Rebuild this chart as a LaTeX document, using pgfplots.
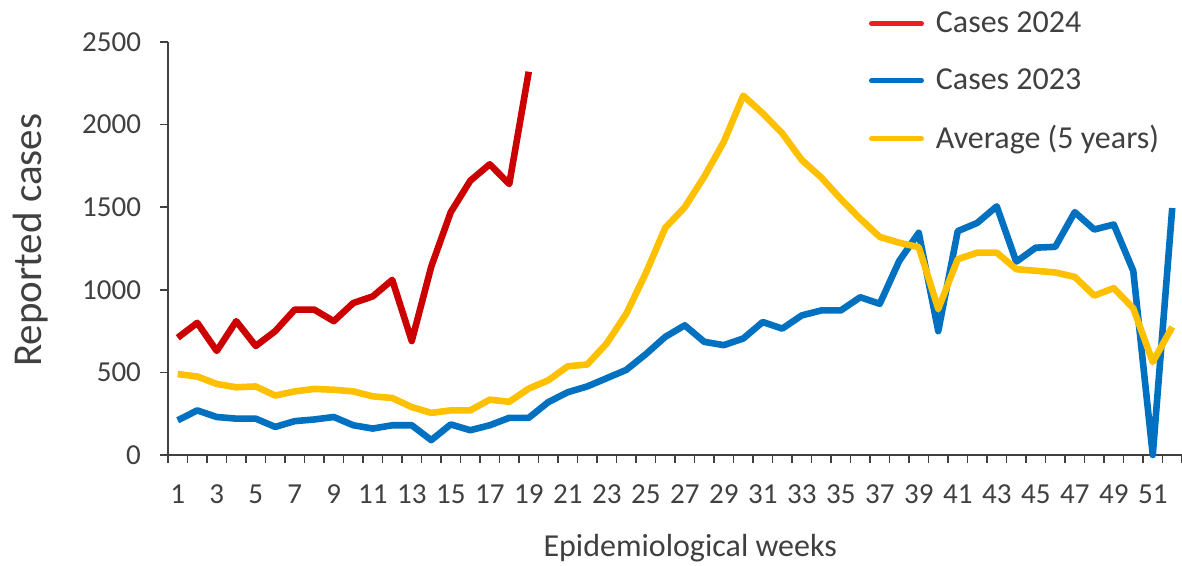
\documentclass[border=0pt]{standalone}
\usepackage{pgfplots}
\pgfplotsset{compat=1.18}
\usepackage{fontspec}
\setmainfont{Carlito}
\definecolor{cred}{HTML}{CC0000}
\definecolor{lred}{HTML}{EE1C25}
\definecolor{cblue}{HTML}{0070C0}
\definecolor{cyel}{HTML}{FFC000}
\definecolor{txt}{HTML}{404040}
\begin{document}
\begin{tikzpicture}
\useasboundingbox (0,0) rectangle (591pt,283pt);
\begin{axis}[
  at={(84pt,55.5pt)}, anchor=south west,
  width=507pt, height=206.5pt, scale only axis,
  xmin=0.5, xmax=52.5, ymin=0, ymax=2500,
  axis x line*=bottom, axis y line*=left,
  axis line style={-, draw=txt, line width=0.8pt},
  xtick={1,3,...,51},
  minor xtick={0.5,1.5,...,52.5},
  ytick={0,500,...,2500},
  tick align=outside,
  major tick length=4pt,
  minor tick length=4pt,
  every major x tick/.style={draw=none},
  every tick/.style={draw=txt, line width=0.8pt},
  /pgf/number format/1000 sep={},
  /pgf/number format/assume math mode=true,
  ticklabel style={font=\fontsize{14.5}{16}\selectfont, text=txt},
  xticklabel style={yshift=-7.5pt},
  yticklabel style={xshift=-6pt},
  xlabel={Epidemiological weeks},
  ylabel={Reported cases},
  xlabel style={at={(axis description cs:0.515,-0.225)}, anchor=center, font=\fontsize{16}{18}\selectfont, text=txt},
  ylabel style={at={(axis description cs:-0.136,0.52)}, anchor=center, font=\fontsize{20.5}{24}\selectfont, text=txt},
  legend style={at={(0.685,1.093)}, anchor=north west, draw=none, fill=none,
    font=\fontsize{16}{18}\selectfont, text=txt, row sep=12.5pt},
  legend cell align=left,
  legend image code/.code={\draw[#1, line width=2.5pt, line cap=round] (0pt,0pt) -- (25pt,0pt); \path (30pt,0pt);},
  clip=false,
]
\addplot[cblue, line width=3.3pt, line join=round, forget plot] coordinates {
(1,210) (2,270) (3,230) (4,220) (5,220) (6,170) (7,205) (8,215) (9,230) (10,180)
(11,160) (12,180) (13,180) (14,90) (15,185) (16,150) (17,180) (18,225) (19,225) (20,320)
(21,380) (22,415) (23,465) (24,515) (25,610) (26,715) (27,785) (28,685) (29,665) (30,705)
(31,805) (32,765) (33,845) (34,875) (35,875) (36,955) (37,915) (38,1175) (39,1345) (40,750)
(41,1355) (42,1405) (43,1505) (44,1170) (45,1255) (46,1260) (47,1470) (48,1365) (49,1395) (50,1115)
(51,0) (52,1495)};
\addplot[cyel, line width=3.3pt, line join=round, forget plot] coordinates {
(1,490) (2,475) (3,430) (4,410) (5,415) (6,360) (7,385) (8,400) (9,395) (10,385)
(11,355) (12,345) (13,290) (14,255) (15,270) (16,270) (17,335) (18,322) (19,402) (20,452)
(21,537) (22,548) (23,676) (24,855) (25,1100) (26,1375) (27,1500) (28,1685) (29,1895) (30,2175)
(31,2068) (32,1947) (33,1786) (34,1680) (35,1550) (36,1430) (37,1320) (38,1285) (39,1258) (40,885)
(41,1185) (42,1225) (43,1225) (44,1125) (45,1115) (46,1105) (47,1078) (48,965) (49,1010) (50,888)
(51,563) (52,775)};
\addplot[cred, line width=3.3pt, line join=round, forget plot] coordinates {
(1,710) (2,800) (3,630) (4,810) (5,660) (6,750) (7,880) (8,880) (9,810) (10,920)
(11,960) (12,1060) (13,690) (14,1140) (15,1470) (16,1660) (17,1760) (18,1640) (19,2320)};
\addlegendimage{lred}
\addlegendentry{Cases 2024}
\addlegendimage{cblue}
\addlegendentry{Cases 2023}
\addlegendimage{cyel}
\addlegendentry{Average (5 years)}
\end{axis}
\end{tikzpicture}
\end{document}
